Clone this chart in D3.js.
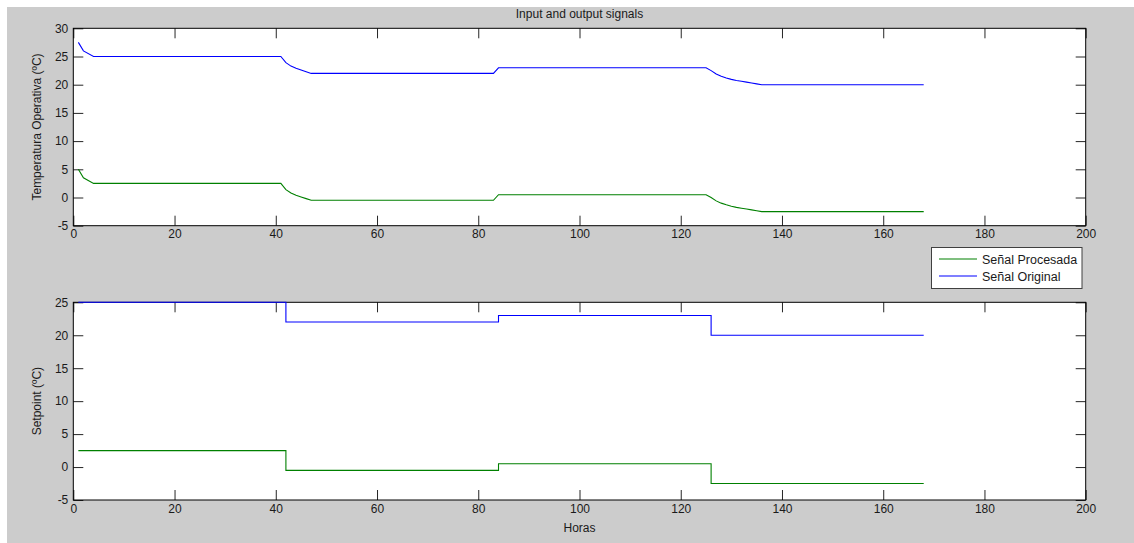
<!DOCTYPE html>
<html>
<head>
<meta charset="utf-8">
<script src="https://cdn.jsdelivr.net/npm/d3@7"></script>
<style>
  html, body { margin: 0; padding: 0; background: #ffffff; }
  svg { display: block; }
  text { font-family: "Liberation Sans", Arial, Helvetica, sans-serif; fill: #1a1a1a; }
</style>
</head>
<body>
<svg id="chart" width="1134" height="543"></svg>
<script>
// Hourly operative temperature: original vs processed signal (breakpoints)
const tempHours     = [1, 2, 4, 41, 42, 43, 44, 45, 46, 47, 83, 84, 125, 126, 127, 128, 129, 130, 131, 132, 133, 134, 135, 136, 168];
const tempOriginal  = [27.5, 26, 25, 25, 23.9, 23.3, 22.9, 22.6, 22.3, 22, 22, 23, 23, 22.5, 21.9, 21.5, 21.2, 20.95, 20.75, 20.6, 20.45, 20.3, 20.15, 20, 20];
const tempProcessed = [5, 3.5, 2.5, 2.5, 1.4, 0.8, 0.4, 0.1, -0.2, -0.5, -0.5, 0.5, 0.5, 0, -0.6, -1, -1.3, -1.55, -1.75, -1.9, -2.05, -2.2, -2.35, -2.5, -2.5];

// Setpoint schedule (step changes)
const setHours     = [1, 42, 84, 126, 168];
const setOriginal  = [25, 22, 23, 20, 20];
const setProcessed = [2.5, -0.5, 0.5, -2.5, -2.5];

const xTicks     = [0, 20, 40, 60, 80, 100, 120, 140, 160, 180, 200];
const yTicksTop  = [-5, 0, 5, 10, 15, 20, 25, 30];
const yTicksBot  = [-5, 0, 5, 10, 15, 20, 25];

const seriesNames = ["Señal Procesada", "Señal Original"];
const colProc = "#008000", colOrig = "#0000ff";

const svg = d3.select("#chart");

// figure background
svg.append("rect").attr("x", 7).attr("y", 7).attr("width", 1127).attr("height", 536).attr("fill", "#cccccc");

const left = 73.3, right = 1085.7;
const x = d3.scaleLinear().domain([0, 200]).range([left, right]);
const fmt = v => String(v);

function panel(top, bottom, yDomain, yTicks) {
  const y = d3.scaleLinear().domain(yDomain).range([bottom, top]);
  const g = svg.append("g");
  g.append("rect").attr("x", left).attr("y", top).attr("width", right - left).attr("height", bottom - top).attr("fill", "#ffffff");

  const tl = 10;
  // inward ticks on all four sides
  const axB = d3.axisBottom(x).tickValues(xTicks).tickFormat(fmt).tickSizeInner(-tl).tickSizeOuter(0).tickPadding(4);
  const axT = d3.axisTop(x).tickValues(xTicks).tickSizeInner(-tl).tickSizeOuter(0).tickFormat("");
  const axL = d3.axisLeft(y).tickValues(yTicks).tickFormat(fmt).tickSizeInner(-tl).tickSizeOuter(0).tickPadding(5);
  const axR = d3.axisRight(y).tickValues(yTicks).tickSizeInner(-tl).tickSizeOuter(0).tickFormat("");

  const style = sel => {
    sel.select(".domain").remove();
    sel.selectAll(".tick line").attr("stroke", "#262626");
    sel.selectAll(".tick text").attr("font-size", "12px").attr("fill", "#1a1a1a")
       .attr("font-family", '"Liberation Sans", Arial, sans-serif');
  };
  g.append("g").attr("transform", `translate(0,${bottom})`).call(axB).call(style);
  g.append("g").attr("transform", `translate(0,${top})`).call(axT).call(style);
  g.append("g").attr("transform", `translate(${left},0)`).call(axL).call(style);
  g.append("g").attr("transform", `translate(${right},0)`).call(axR).call(style);

  g.append("rect").attr("x", left).attr("y", top).attr("width", right - left).attr("height", bottom - top)
    .attr("fill", "none").attr("stroke", "#000").attr("stroke-width", 1);
  return { g, y };
}

// Top panel: operative temperature
const p1 = panel(28.3, 225.7, [-5, 30], yTicksTop);
const line1 = d3.line().x(d => x(d[0])).y(d => p1.y(d[1]));
p1.g.append("path").datum(d3.zip(tempHours, tempProcessed)).attr("d", line1)
  .attr("fill", "none").attr("stroke", colProc).attr("stroke-width", 1.1);
p1.g.append("path").datum(d3.zip(tempHours, tempOriginal)).attr("d", line1)
  .attr("fill", "none").attr("stroke", colOrig).attr("stroke-width", 1.1);

// Bottom panel: setpoint
const p2 = panel(302.3, 500, [-5, 25], yTicksBot);
const line2 = d3.line().curve(d3.curveStepAfter).x(d => x(d[0])).y(d => p2.y(d[1]));
p2.g.append("path").datum(d3.zip(setHours, setProcessed)).attr("d", line2)
  .attr("fill", "none").attr("stroke", colProc).attr("stroke-width", 1.1);
p2.g.append("path").datum(d3.zip(setHours, setOriginal)).attr("d", line2)
  .attr("fill", "none").attr("stroke", colOrig).attr("stroke-width", 1.1);

// Titles and axis labels
const midX = (left + right) / 2;
svg.append("text").attr("x", midX).attr("y", 18).attr("text-anchor", "middle").attr("font-size", "12px")
  .text("Input and output signals");
svg.append("text").attr("transform", `translate(41,${(28.3 + 225.7) / 2}) rotate(-90)`)
  .attr("text-anchor", "middle").attr("font-size", "12px").text("Temperatura Operativa (ºC)");
svg.append("text").attr("transform", `translate(41,${(302.3 + 500) / 2}) rotate(-90)`)
  .attr("text-anchor", "middle").attr("font-size", "12px").text("Setpoint (ºC)");
svg.append("text").attr("x", midX).attr("y", 532).attr("text-anchor", "middle").attr("font-size", "12px")
  .text("Horas");

// Legend
const lg = svg.append("g");
lg.append("rect").attr("x", 931.5).attr("y", 247.5).attr("width", 150.5).attr("height", 41)
  .attr("fill", "#ffffff").attr("stroke", "#404040").attr("stroke-width", 1);
[colProc, colOrig].forEach((c, i) => {
  const yy = 259 + i * 17;
  lg.append("line").attr("x1", 939).attr("x2", 977).attr("y1", yy).attr("y2", yy)
    .attr("stroke", c).attr("stroke-width", 1.2);
  lg.append("text").attr("x", 982).attr("y", yy + 4.5).attr("font-size", "12.5px").text(seriesNames[i]);
});
</script>
</body>
</html>
